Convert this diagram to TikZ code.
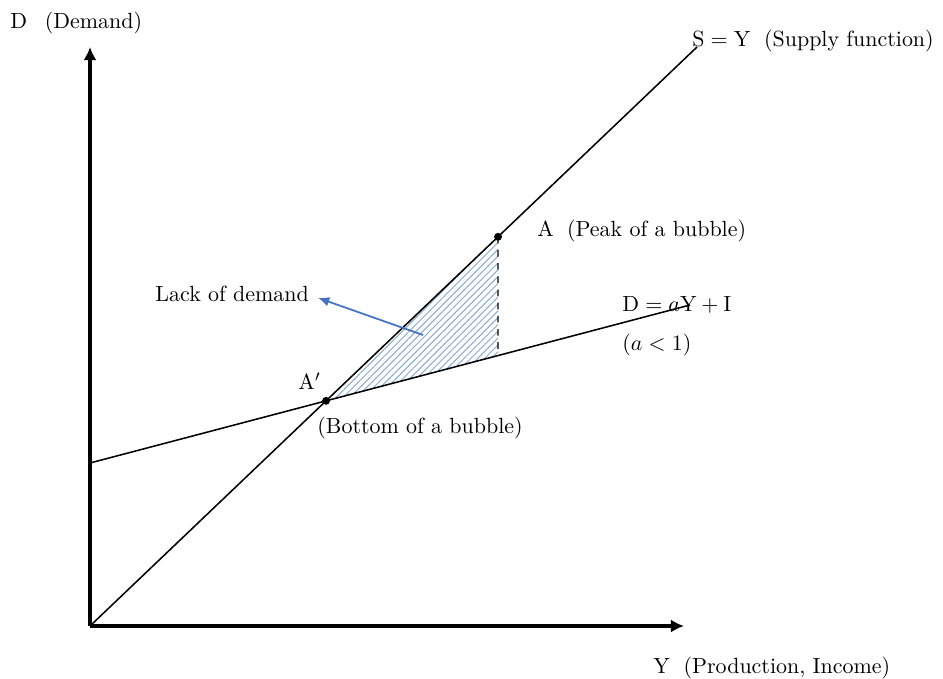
\documentclass[tikz,border=0pt]{standalone}
\usepackage{amsmath,amssymb}
\usepackage{tikz}
\usetikzlibrary{arrows.meta,positioning,calc,intersections,patterns.meta}
\usepackage{xcolor}
\definecolor{arrowblue}{RGB}{68,114,196}
\definecolor{hatchblue}{RGB}{135,170,205}

\begin{document}
\begin{tikzpicture}[x=0.016cm,y=-0.016cm,
  axis/.style={line width=1.4pt,-{Latex[length=6pt,width=6pt]}},
  curve/.style={line width=0.7pt},
  lbl/.style={anchor=west,inner sep=0pt}]
  \useasboundingbox (0,0) rectangle (943,679);

  % axes
  \coordinate (O) at (90,626);
  \coordinate (Ytip) at (684,626);
  \coordinate (Dtip) at (90,47);
  \draw[axis] (O) -- (Ytip);
  \draw[axis] (O) -- (Dtip);

  % supply and demand lines
  \coordinate (Send) at (697,47);
  \coordinate (Dleft) at (90,463);
  \coordinate (Dend) at (690,305);
  \path[name path=supply] (O) -- (Send);
  \path[name path=demand] (Dleft) -- (Dend);
  \path[name intersections={of=supply and demand, by=Ap}];
  \coordinate (A) at ($(O)!0.6722!(Send)$);
  \coordinate (B) at ($(Dleft)!0.68!(Dend)$);

  % lack of demand
  \fill[pattern={Lines[angle=45,distance=2.2pt,line width=0.45pt]}, pattern color=hatchblue]
    (Ap) -- (A) -- (B) -- cycle;
  \draw[curve] (O) -- (Send);
  \draw[curve] (Dleft) -- (Dend);
  \draw[dashed, line width=0.5pt] (A) -- (B);
  \fill (A) circle (1.8pt);
  \fill (Ap) circle (1.8pt);

  % labels
  \node[lbl] (dlabel) at (10,23) {$\mathrm{D}$\hspace{8pt}(Demand)};
  \node[lbl] (slabel) at (692,41) {$\mathrm{S}=\mathrm{Y}$\hspace{6pt}(Supply function)};
  \node[lbl] (alabel) at (537,231) {$\mathrm{A}$\hspace{6pt}(Peak of a bubble)};
  \node[lbl] (aplabel) at (298,381) {$\mathrm{A}'$};
  \node[lbl] (bottom) at (317,428) {(Bottom of a bubble)};
  \node[lbl] (dfunc) at (622,305) {$\mathrm{D}=a\mathrm{Y}+\mathrm{I}$};
  \node[lbl] (acond) at (622,345) {$(a<1)$};
  \node[lbl] (lack) at (155,294) {Lack of demand};
  \node[lbl] (ylabel) at (653,668) {$\mathrm{Y}$\hspace{6pt}(Production, Income)};

  % arrow to the area
  \coordinate (tail) at (423,335);
  \draw[arrowblue, line width=0.8pt, -{Latex[length=5pt,width=4.5pt]}] (tail) -- ($(lack.east)+(9,4)$);
\end{tikzpicture}
\end{document}
